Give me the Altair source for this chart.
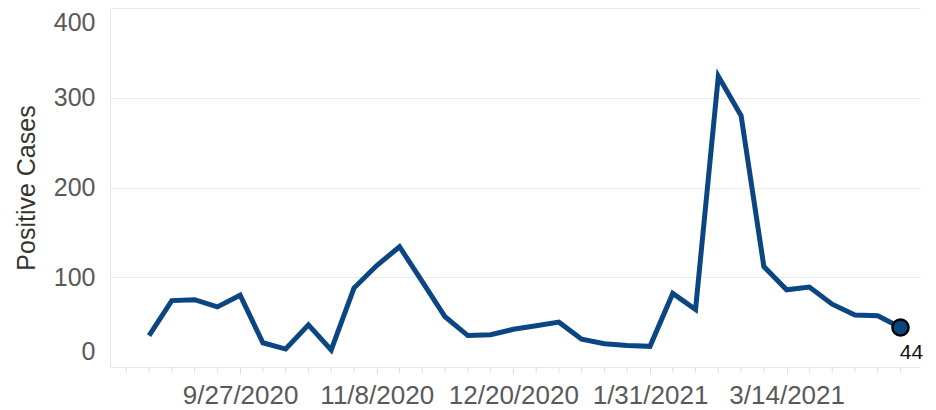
import altair as alt
import pandas as pd

# Weekly positive cases
dates = [
    "2020-08-30", "2020-09-06", "2020-09-13", "2020-09-20", "2020-09-27",
    "2020-10-04", "2020-10-11", "2020-10-18", "2020-10-25", "2020-11-01",
    "2020-11-08", "2020-11-15", "2020-11-22", "2020-11-29", "2020-12-06",
    "2020-12-13", "2020-12-20", "2020-12-27", "2021-01-03", "2021-01-10",
    "2021-01-17", "2021-01-24", "2021-01-31", "2021-02-07", "2021-02-14",
    "2021-02-21", "2021-02-28", "2021-03-07", "2021-03-14", "2021-03-21",
    "2021-03-28", "2021-04-04", "2021-04-11", "2021-04-18",
]
cases = [
    35, 74, 75, 67, 80,
    27, 20, 47, 19, 88,
    113, 134, 95, 56, 35,
    36, 42, 46, 50, 31,
    26, 24, 23, 82, 64,
    324, 280, 112, 86, 89,
    70, 58, 57, 44,
]
y_ticks = [0, 100, 200, 300, 400]
major_dates = ["2020-09-27", "2020-11-08", "2020-12-20", "2021-01-31", "2021-03-14"]
minor_dates = [
    "2020-08-23", "2020-08-30", "2020-09-06", "2020-09-13", "2020-09-20",
    "2020-10-04", "2020-10-11", "2020-10-18", "2020-10-25", "2020-11-01",
    "2020-11-15", "2020-11-22", "2020-11-29", "2020-12-06", "2020-12-13",
    "2020-12-27", "2021-01-03", "2021-01-10", "2021-01-17", "2021-01-24",
    "2021-02-07", "2021-02-14", "2021-02-21", "2021-02-28", "2021-03-07",
    "2021-03-21", "2021-03-28", "2021-04-04", "2021-04-11", "2021-04-18",
]
x_domain = ["2020-08-18", "2021-04-24"]

df = pd.DataFrame({"date": dates, "cases": cases})
last = df.tail(1).copy()
last["label"] = last["cases"].astype(str)
minor_df = pd.DataFrame({"tick": minor_dates})


def ms(s):
    return int(pd.Timestamp(s, tz="UTC").value // 10**6)


FONT = "Liberation Sans"
BLUE = "#0b4682"
TICK = "#e0e0e0"

x_enc = alt.X(
    "date:T",
    scale=alt.Scale(type="utc", domain=[ms(x_domain[0]), ms(x_domain[1])]),
    axis=alt.Axis(
        title=None,
        values=[ms(d) for d in major_dates],
        format="%-m/%-d/%Y",
        labelOverlap=False,
        labelFlush=False,
        grid=False,
        domain=True,
        domainColor="#e6e6e6",
        ticks=True,
        tickColor=TICK,
        tickSize=7,
        labelPadding=8,
        labelFont=FONT,
        labelFontSize=26,
        labelColor="#595959",
    ),
)

y_enc = alt.Y(
    "cases:Q",
    scale=alt.Scale(domain=[0, 400], nice=False, zero=True),
    axis=alt.Axis(
        title="Positive Cases",
        values=y_ticks,
        grid=True,
        gridColor="#ebebeb",
        domain=True,
        domainColor="#e6e6e6",
        ticks=False,
        labelPadding=15,
        labelFlush=False,
        labelOffset={"condition": [
            {"test": "datum.value == 0", "value": -16},
            {"test": "datum.value == 400", "value": 14},
        ], "value": 0},
        labelFont=FONT,
        labelFontSize=25,
        labelColor="#595959",
        titleFont=FONT,
        titleFontSize=25,
        titleFontWeight="normal",
        titleColor="#333333",
        titlePadding=14,
    ),
)

line = alt.Chart(df).mark_line(color=BLUE, strokeWidth=5, strokeJoin="miter").encode(x=x_enc, y=y_enc)

minor = alt.Chart(minor_df).mark_tick(
    orient="vertical", size=6, thickness=1, color=TICK, opacity=1
).encode(x="tick:T", y=alt.datum(0), yOffset=alt.value(3))

point = alt.Chart(last).mark_point(
    filled=True, size=260, fill=BLUE, stroke="#000000", strokeWidth=2.5, opacity=1
).encode(x="date:T", y="cases:Q")

label = alt.Chart(last).mark_text(
    dx=11, dy=25, align="center", baseline="middle", font=FONT, fontSize=21, color="#111111"
).encode(x="date:T", y="cases:Q", text="label:N")

chart = (
    alt.layer(line, minor, point, label)
    .properties(
        width=920,
        height=400,
        autosize=alt.AutoSizeParams(type="fit", contains="padding"),
        padding={"left": 6, "top": 0, "right": 7, "bottom": 0},
    )
    .configure_view(stroke=None)
)

chart.save("out.html", embed_options={"renderer": "svg", "actions": False})
